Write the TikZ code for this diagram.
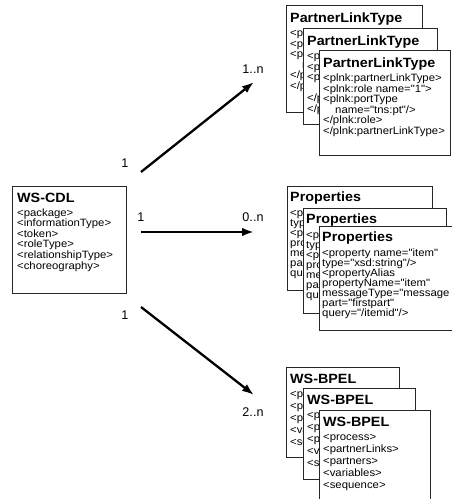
\documentclass[tikz,border=0pt]{standalone}
\usepackage{fontspec}
\setmainfont{Liberation Sans}
\newfontfamily\bodyfont{Liberation Sans}[FakeStretch=1.07]
\usetikzlibrary{arrows.meta}
\newcommand\cardtitle[2]{{\fontsize{13.4}{10.6}\selectfont\bfseries #1}\\[#2]}
\newcommand\pltbody{\cardtitle{PartnerLinkType}{3pt}%
<plnk:partnerLinkType>\\
<plnk:role name="1">\\
<plnk:portType\\
\hspace*{12pt}name="tns:pt"/>\\
</plnk:role>\\
</plnk:partnerLinkType>}
\newcommand\propbody{\cardtitle{Properties}{3pt}%
<property name="item"\\
type="xsd:string"/>\\
<propertyAlias\\
propertyName="item"\\
messageType="message\\
part="firstpart"\\
query="/itemid"/>}
\newcommand\bpelbody{\cardtitle{WS-BPEL}{1.5pt}%
<process>\\
<partnerLinks>\\
<partners>\\
<variables>\\
<sequence>}
\begin{document}
\begin{tikzpicture}[x=1pt,y=-1pt,
  card/.style={draw=black!85, line width=1pt, fill=white, anchor=north west, inner sep=0pt, outer sep=0pt},
  cardtext/.style={anchor=north west, inner sep=0pt, align=left, font=\bodyfont\fontsize{10.6}{#1}\selectfont, text=black},
  cardtext/.default=10.6pt,
  conn/.style={line width=2.3pt, -{Latex[length=12pt,width=8.5pt]}},
  mult/.style={font=\fontsize{12.6}{14}\selectfont, inner sep=0pt}]
\useasboundingbox (0,0) rectangle (452,499);

% WS-CDL
\node[card, minimum width=114pt, minimum height=107pt] (cdl) at (12,186) {};
\node[cardtext] (cdlt) at ([shift={(5,7)}]cdl.north west) {\cardtitle{WS-CDL}{3pt}%
<package>\\
<informationType>\\
<token>\\
<roleType>\\
<relationshipType>\\
<choreography>};

% PartnerLinkType stack
\node[card, minimum width=136pt, minimum height=107pt] (plta) at (286,5) {};
\node[cardtext] (pltat) at ([shift={(4,8)}]plta.north west) {\pltbody};
\node[card, minimum width=134pt, minimum height=96pt] (pltb) at (303,28) {};
\node[cardtext] (pltbt) at ([shift={(4,8)}]pltb.north west) {\pltbody};
\node[card, minimum width=131pt, minimum height=105pt] (pltc) at (319,50) {};
\node[cardtext] (pltct) at ([shift={(4,8)}]pltc.north west) {\pltbody};

% Properties stack
\node[card, minimum width=145pt, minimum height=104pt] (propa) at (287,186) {};
\node[cardtext=10pt] (propat) at ([shift={(3,6)}]propa.north west) {\propbody};
\node[card, minimum width=143pt, minimum height=105pt] (propb) at (303,208) {};
\node[cardtext=10pt] (propbt) at ([shift={(3,6)}]propb.north west) {\propbody};
\node[card, minimum width=150pt, minimum height=104pt] (propc) at (319,226) {};
\node[cardtext=10pt] (propct) at ([shift={(3,6)}]propc.north west) {\propbody};

% WS-BPEL stack
\node[card, minimum width=113pt, minimum height=90pt] (bpela) at (286,367) {};
\node[cardtext=12pt] (bpelat) at ([shift={(4,7)}]bpela.north west) {\bpelbody};
\node[card, minimum width=112pt, minimum height=91pt] (bpelb) at (303,388) {};
\node[cardtext=12pt] (bpelbt) at ([shift={(4,7)}]bpelb.north west) {\bpelbody};
\node[card, minimum width=111pt, minimum height=100pt] (bpelc) at (319,410) {};
\node[cardtext=12pt] (bpelct) at ([shift={(4,7)}]bpelc.north west) {\bpelbody};

% connectors
\coordinate (s1) at (141,172);
\coordinate (e1) at (254,82);
\coordinate (s2) at (141,232);
\coordinate (e2) at (254,232);
\coordinate (s3) at (141,307);
\coordinate (e3) at (254,395);
\draw[conn] (s1) -- (e1);
\draw[conn] (s2) -- (e2);
\draw[conn] (s3) -- (e3);

% multiplicities
\node[mult] (m1a) at (125,163) {1};
\node[mult] (m1b) at (253,69) {1..n};
\node[mult] (m2a) at (141,217) {1};
\node[mult] (m2b) at (253,217) {0..n};
\node[mult] (m3a) at (125,315) {1};
\node[mult] (m3b) at (253,412) {2..n};
\end{tikzpicture}
\end{document}
